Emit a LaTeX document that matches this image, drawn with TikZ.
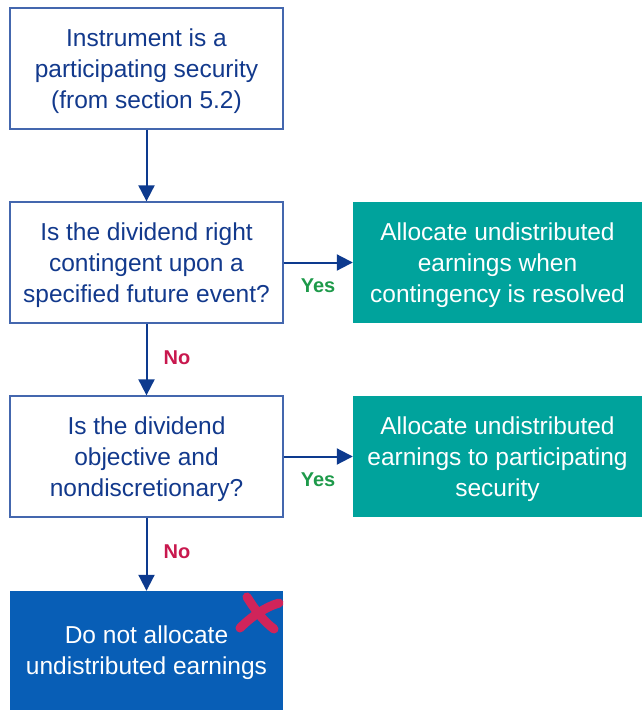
\documentclass[tikz,border=0pt]{standalone}
\usepackage{fontspec}
\setmainfont{Liberation Sans}
\usetikzlibrary{arrows.meta,positioning}
\definecolor{flowline}{HTML}{0D3A8E}
\definecolor{boxedge}{HTML}{4467AE}
\definecolor{boxtext}{HTML}{12398C}
\definecolor{tealfill}{HTML}{00A39C}
\definecolor{stopfill}{HTML}{085EB6}
\definecolor{yesgreen}{HTML}{1E9A4A}
\definecolor{nored}{HTML}{C8184E}
\definecolor{crossred}{HTML}{D0245A}
\newcommand{\topline}{\rule{0pt}{23pt}}

\begin{document}
\begin{tikzpicture}[x=1pt,y=-1pt,>={Triangle[length=16pt,width=16pt]},every node/.style={font=\fontsize{24.5}{31}\selectfont},linebox/.style={align=center,inner sep=0pt},qbox/.style={linebox,draw=boxedge,line width=1.3pt,text=boxtext,minimum width=273pt,minimum height=121pt},abox/.style={linebox,fill=tealfill,text=white,minimum width=289pt,minimum height=121pt},flow/.style={->,line width=2pt,flowline},yes/.style={font=\fontsize{20}{24}\selectfont\bfseries,text=yesgreen},no/.style={font=\fontsize{20}{24}\selectfont\bfseries,text=nored}]
\useasboundingbox (0,0) rectangle (642,710);
\node[qbox] (start) at (146.5,68.5) {\topline Instrument is a\\participating security\\(from section 5.2)};
\node[qbox] (contingent) at (146.5,262.5) {\topline Is the dividend right\\contingent upon a\\specified future event?};
\node[qbox] (objective) at (146.5,456.5) {\topline Is the dividend\\objective and\\nondiscretionary?};
\node[linebox,fill=stopfill,text=white,minimum width=273pt,minimum height=119pt] (noalloc) at (146.5,650.5) {\topline Do not allocate\\undistributed earnings};
\node[abox] (whenresolved) at (497.5,262.5) {\topline Allocate undistributed\\earnings when\\contingency is resolved};
\node[abox] (toparticipating) at (497.5,456.5) {\topline Allocate undistributed\\earnings to participating\\security};
% connectors
\draw[flow] (start)--(contingent);\draw[flow] (contingent)--(objective);\draw[flow] (objective)--(noalloc);
\draw[flow] (contingent)--(whenresolved);\draw[flow] (objective)--(toparticipating);
\node[yes] (yes1) at (318,286) {Yes};\node[yes] (yes2) at (318,480) {Yes};
\node[no] (no1) at (177,358) {No};\node[no] (no2) at (177,552) {No};
% cross mark
\draw[crossred,line width=9pt,line cap=round] (247,597) .. controls (254,608) and (262,620) .. (274,629);
\draw[crossred,line width=9pt,line cap=round] (279,603) .. controls (265,607) and (251,617) .. (240,628);
\end{tikzpicture}
\end{document}
